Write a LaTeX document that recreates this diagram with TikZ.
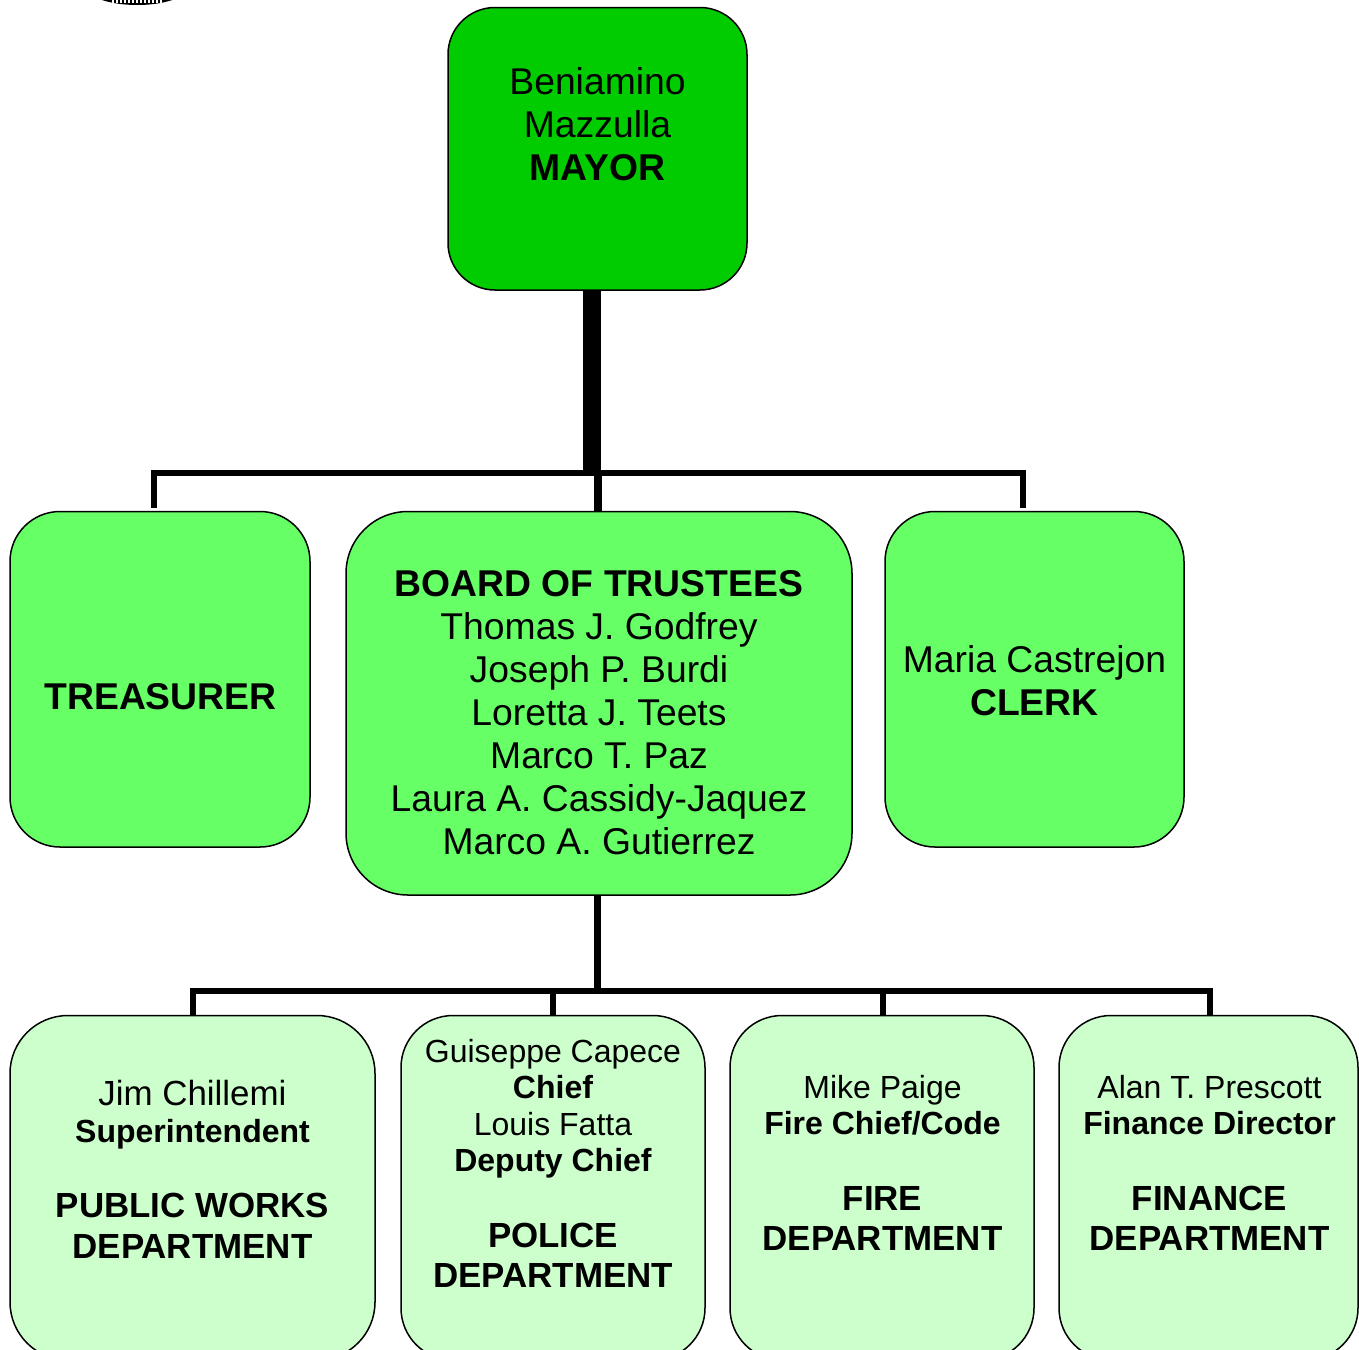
\documentclass[tikz,border=0pt]{standalone}
\usepackage{fontspec}
\setmainfont{Liberation Sans}
\newcommand\fbig{\fontsize{37.3}{43}\selectfont}
\newcommand\fmid{\fontsize{34.9}{40}\selectfont}
\newcommand\fsml{\fontsize{32}{36.6}\selectfont}
\definecolor{topg}{RGB}{0,204,0}
\definecolor{midg}{RGB}{102,255,102}
\definecolor{lowg}{RGB}{204,255,204}
\tikzset{
  orgbox/.style={draw=black,line width=1.5pt,rounded corners=#1,inner sep=0pt},
  boxtext/.style={align=center,inner sep=0pt,text=black},
  wire/.style={draw=black,line width=6pt},
  trunk/.style={draw=black,line width=17.5pt},
}
\begin{document}
\begin{tikzpicture}[x=1pt,y=-1pt]
\useasboundingbox (0,0) rectangle (1359,1349);
\clip (0,0) rectangle (1359,1349);
% seal fragment at the top edge
\fill[black] (88,-6) .. controls (102,2) and (120,5) .. (137,5) .. controls (155,5) and (172,2) .. (186,-6) -- cycle;
\draw[white,line width=3pt,dash pattern=on 2pt off 2pt] (112,1) -- (162,1);
% boxes
\path[orgbox=47pt,fill=topg] (448,7.5) rectangle (747,290);
\path[orgbox=50pt,fill=midg] (10,511.5) rectangle (310,847);
\path[orgbox=62pt,fill=midg] (346,511.5) rectangle (852,895);
\path[orgbox=50pt,fill=midg] (885,511.5) rectangle (1184,847);
\path[orgbox=58pt,fill=lowg] (10,1015.5) rectangle (375,1360);
\path[orgbox=52pt,fill=lowg] (401,1015.5) rectangle (705,1360);
\path[orgbox=52pt,fill=lowg] (730,1015.5) rectangle (1034,1360);
\path[orgbox=52pt,fill=lowg] (1059,1015.5) rectangle (1358,1360);
% named anchors
\coordinate (mayor) at (592,290);
\coordinate (bus) at (592,473);
\coordinate (treasurer) at (154,508);
\coordinate (board) at (597.8,511);
\coordinate (clerk) at (1023,508);
\coordinate (boardlow) at (597.5,895);
\coordinate (lowbus) at (597.5,991);
\coordinate (works) at (192.5,1015);
\coordinate (police) at (552.5,1015);
\coordinate (fire) at (882.5,1015);
\coordinate (finance) at (1209.5,1015);
% connectors
\draw[wire] (treasurer) |- (bus) -| (clerk);
\draw[wire,line width=7.5pt] (bus -| board) -- (board);
\draw[trunk] (mayor) -- (bus);
\draw[wire,line width=6.5pt] (boardlow) -- ([yshift=3pt]lowbus);
\draw[wire] (works) |- (lowbus) -| (finance);
\draw[wire] (police) -- (police |- lowbus);
\draw[wire] (fire) -- (fire |- lowbus);
% labels
\node[boxtext,font=\fbig] (lmayor) at (597.5,124) {Beniamino\\Mazzulla\\\textbf{MAYOR}};
\node[boxtext,font=\fbig] (ltreas) at (160.5,697) {\textbf{TREASURER}};
\node[boxtext,font=\fbig] (lboard) at (599,712.2) {\textbf{BOARD OF TRUSTEES}\\Thomas J. Godfrey\\Joseph P. Burdi\\Loretta J. Teets\\Marco T. Paz\\Laura A. Cassidy-Jaquez\\Marco A. Gutierrez};
\node[boxtext,font=\fbig] (lclerk) at (1034.5,681) {Maria Castrejon\\\textbf{CLERK}};
\node[boxtext,font=\fsml] (lworks) at (192.5,1169) {\fmid Jim Chillemi\\[0.4pt]\textbf{Superintendent}\\[38.4pt]\fmid\textbf{PUBLIC WORKS}\\[4.4pt]\fmid\textbf{DEPARTMENT}};
\node[boxtext,font=\fsml] (lpolice) at (553,1163.4) {Guiseppe Capece\\\textbf{Chief}\\Louis Fatta\\\textbf{Deputy Chief}\\[39.4pt]\fmid\textbf{POLICE}\\[3.4pt]\fmid\textbf{DEPARTMENT}};
\node[boxtext,font=\fsml] (lfire) at (882.5,1163) {Mike Paige\\\textbf{Fire Chief/Code}\\[39.4pt]\fmid\textbf{FIRE}\\[3.4pt]\fmid\textbf{DEPARTMENT}};
\node[boxtext,font=\fsml] (lfin) at (1209.5,1163) {Alan T. Prescott\\\textbf{Finance Director}\\[39.4pt]\fmid\textbf{FINANCE}\\[3.4pt]\fmid\textbf{DEPARTMENT}};
\end{tikzpicture}
\end{document}
